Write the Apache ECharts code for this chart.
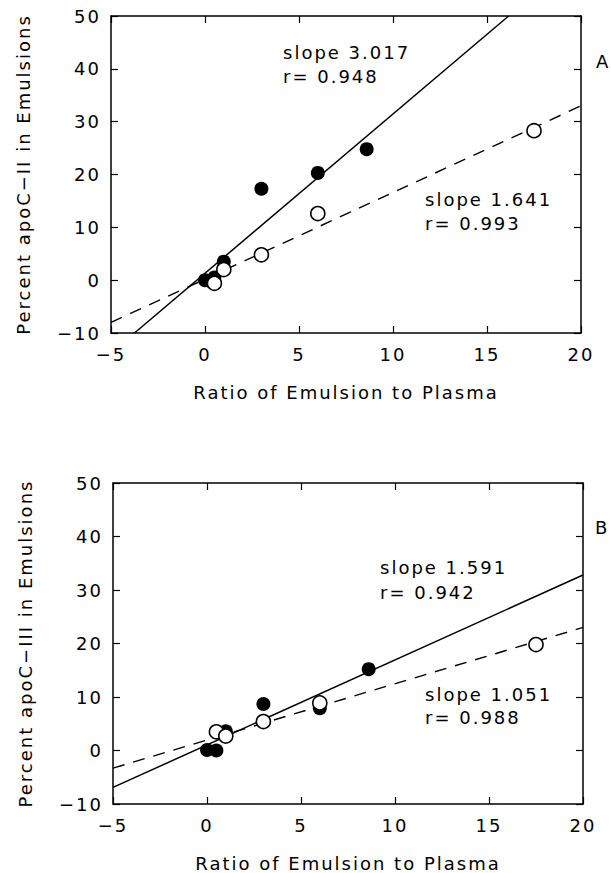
<!DOCTYPE html>
<html>
<head>
<meta charset="utf-8">
<script src="https://cdn.jsdelivr.net/npm/echarts@6/dist/echarts.min.js"></script>
<style>
  html, body { margin: 0; padding: 0; background: #fff; }
  #main { width: 611px; height: 873px; }
  #main text { letter-spacing: 2px; }
</style>
</head>
<body>
<div id="main"></div>
<script>
// ---- Panel A (apoC-II) ----
const aFilledX = [0, 0.3, 0.5, 1, 3, 6, 8.6];
const aFilledY = [0, -0.2, 0.5, 3.5, 17.3, 20.3, 24.8];
const aOpenX = [0.5, 1, 3, 6, 17.5];
const aOpenY = [-0.6, 2.0, 4.8, 12.6, 28.3];
const aSolidX = [-3.75, 16.15];
const aSolidY = [-10, 50];
const aDashX = [-5, 20];
const aDashY = [-8.0, 33.0];

// ---- Panel B (apoC-III) ----
const bFilledX = [0, 0.5, 1, 3, 6, 8.6];
const bFilledY = [0.1, 0, 3.6, 8.7, 7.9, 15.2];
const bOpenX = [0.5, 1, 3, 6, 17.5];
const bOpenY = [3.5, 2.7, 5.4, 8.9, 19.8];
const bSolidX = [-5, 20];
const bSolidY = [-6.9, 32.8];
const bDashX = [-5, 20];
const bDashY = [-3.3, 23.0];

// ---- Axes / text ----
const xMin = -5, xMax = 20, xStep = 5;
const yMin = -10, yMax = 50, yStep = 10;
const xTitle = 'Ratio of Emulsion to Plasma';
const yTitleA = 'Percent apoC\u2212II in Emulsions';
const yTitleB = 'Percent apoC\u2212III in Emulsions';
const notesA = [['slope 3.017', 'r= 0.948'], ['slope 1.641', 'r= 0.993']];
const notesB = [['slope 1.591', 'r= 0.942'], ['slope 1.051', 'r= 0.988']];

const zip = (xs, ys) => xs.map((x, i) => [x, ys[i]]);
const FONT = 'DejaVu Sans';
const FS = 18;
const fmt = v => String(v).replace('-', '\u2212');

const lineBase = { onZero: false, lineStyle: { color: '#000', width: 1.5 } };
const tickBase = { inside: true, length: 7, lineStyle: { color: '#000', width: 1.2 } };

function xAxes(g) {
  return [
    { gridIndex: g, type: 'value', min: xMin, max: xMax, interval: xStep, position: 'bottom',
      axisLine: lineBase, axisTick: tickBase,
      axisLabel: { color: '#000', fontFamily: FONT, fontSize: FS, margin: 12, formatter: fmt },
      splitLine: { show: false },
      name: xTitle, nameLocation: 'middle', nameGap: 50,
      nameTextStyle: { color: '#000', fontFamily: FONT, fontSize: FS } },
    { gridIndex: g, type: 'value', min: xMin, max: xMax, interval: xStep, position: 'top',
      axisLine: lineBase, axisTick: tickBase,
      axisLabel: { show: false }, splitLine: { show: false } }
  ];
}
function yAxes(g, title) {
  return [
    { gridIndex: g, type: 'value', min: yMin, max: yMax, interval: yStep, position: 'left',
      axisLine: lineBase, axisTick: tickBase,
      axisLabel: { color: '#000', fontFamily: FONT, fontSize: FS, margin: 10, formatter: fmt },
      splitLine: { show: false },
      name: title, nameLocation: 'middle', nameGap: 79,
      nameTextStyle: { color: '#000', fontFamily: FONT, fontSize: FS } },
    { gridIndex: g, type: 'value', min: yMin, max: yMax, interval: yStep, position: 'right',
      axisLine: lineBase, axisTick: tickBase,
      axisLabel: { show: false }, splitLine: { show: false } }
  ];
}

function panelSeries(xi, yi, solid, dash, filled, open) {
  return [
    { type: 'line', xAxisIndex: xi, yAxisIndex: yi, data: solid, showSymbol: false, silent: true,
      lineStyle: { color: '#000', width: 1.5 }, z: 2 },
    { type: 'line', xAxisIndex: xi, yAxisIndex: yi, data: dash, showSymbol: false, silent: true,
      lineStyle: { color: '#000', width: 1.4, type: [12, 9] }, z: 2 },
    { type: 'scatter', xAxisIndex: xi, yAxisIndex: yi, data: filled, symbol: 'circle', symbolSize: 14,
      itemStyle: { color: '#000', opacity: 1 }, z: 3 },
    { type: 'scatter', xAxisIndex: xi, yAxisIndex: yi, data: open, symbol: 'circle', symbolSize: 14,
      itemStyle: { color: '#fff', borderColor: '#000', borderWidth: 1.6, opacity: 1 }, z: 4 }
  ];
}

function txt(s, left, cy) {
  return { type: 'text', left: left, top: cy - FS / 2 - 1,
    style: { text: s, fill: '#000', font: FS + 'px "' + FONT + '"' } };
}

const chart = echarts.init(document.getElementById('main'), null, { renderer: 'svg' });
chart.setOption({
  animation: false,
  backgroundColor: '#fff',
  grid: [
    { left: 111, top: 16, width: 470, height: 317 },
    { left: 113, top: 483, width: 470, height: 321 }
  ],
  xAxis: [...xAxes(0), ...xAxes(1)],
  yAxis: [...yAxes(0, yTitleA), ...yAxes(1, yTitleB)],
  series: [
    ...panelSeries(0, 0, zip(aSolidX, aSolidY), zip(aDashX, aDashY), zip(aFilledX, aFilledY), zip(aOpenX, aOpenY)),
    ...panelSeries(2, 2, zip(bSolidX, bSolidY), zip(bDashX, bDashY), zip(bFilledX, bFilledY), zip(bOpenX, bOpenY))
  ],
  graphic: [
    txt(notesA[0][0], 283, 53), txt(notesA[0][1], 283, 77),
    txt(notesA[1][0], 425, 200), txt(notesA[1][1], 425, 224),
    txt(notesB[0][0], 380, 568), txt(notesB[0][1], 380, 593),
    txt(notesB[1][0], 425, 695), txt(notesB[1][1], 425, 718),
    txt('A', 596, 62), txt('B', 595, 528)
  ]
});
</script>
</body>
</html>
